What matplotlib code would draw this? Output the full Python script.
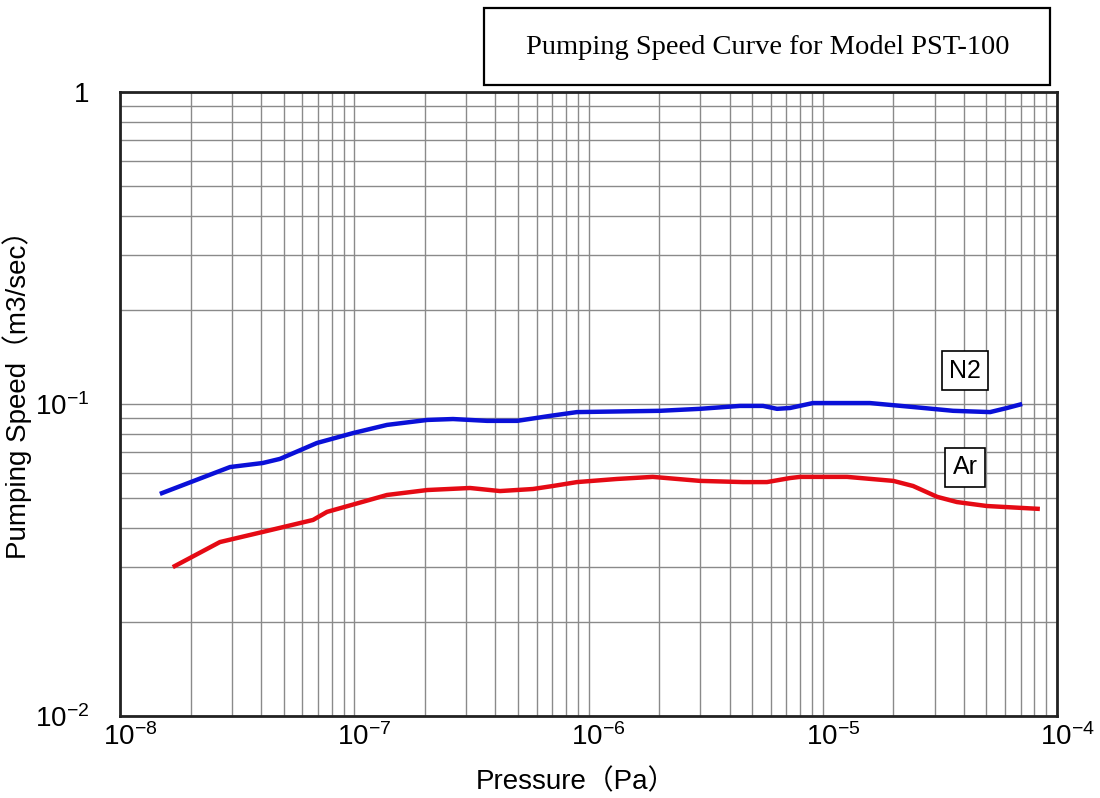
import matplotlib
matplotlib.use("Agg")
import matplotlib.pyplot as plt
from matplotlib.ticker import FixedLocator, LogLocator, NullFormatter, FixedFormatter
from matplotlib.patches import Rectangle
import matplotlib.transforms as mtransforms

plt.rcParams['font.family'] = ['Liberation Sans', 'Noto Sans CJK JP', 'DejaVu Sans']

# datos
# N2
n2_presion = [1.48e-8, 2.95e-8, 4.07e-8, 4.82e-8, 6.93e-8, 9.89e-8, 1.38e-7, 2.05e-7,
              2.64e-7, 3.69e-7, 4.96e-7, 6.85e-7, 8.93e-7, 2.02e-6, 2.99e-6, 4.43e-6,
              5.56e-6, 6.38e-6, 7.25e-6, 9.08e-6, 1.59e-5, 2.43e-5, 3.60e-5, 5.18e-5,
              6.12e-5, 7.10e-5]
n2_velocidad = [0.0515, 0.0628, 0.0647, 0.0667, 0.0750, 0.0807, 0.0857, 0.0889,
                0.0895, 0.0883, 0.0883, 0.0916, 0.0942, 0.0951, 0.0965, 0.0986,
                0.0986, 0.0965, 0.0971, 0.1007, 0.1007, 0.0978, 0.0951, 0.0942,
                0.0971, 0.1000]

# Ar
ar_presion = [1.68e-8, 2.67e-8, 4.07e-8, 6.67e-8, 7.65e-8, 1.38e-7, 2.05e-7, 3.12e-7,
              4.19e-7, 5.79e-7, 7.05e-7, 8.93e-7, 1.32e-6, 1.88e-6, 2.99e-6, 4.57e-6,
              5.78e-6, 7.25e-6, 8.0e-6, 1.27e-5, 2.0e-5, 2.43e-5, 3.08e-5, 3.74e-5,
              5.02e-5, 8.45e-5]
ar_velocidad = [0.0300, 0.0361, 0.0389, 0.0425, 0.0451, 0.0511, 0.0530, 0.0538,
                0.0526, 0.0534, 0.0546, 0.0562, 0.0575, 0.0584, 0.0567, 0.0562,
                0.0562, 0.0579, 0.0584, 0.0584, 0.0567, 0.0546, 0.0504, 0.0485,
                0.0471, 0.0461]

x_ticks = [1e-8, 1e-7, 1e-6, 1e-5, 1e-4]
x_labels = [r'$\mathregular{10^{-8}}$', r'$\mathregular{10^{-7}}$', r'$\mathregular{10^{-6}}$',
            r'$\mathregular{10^{-5}}$', r'$\mathregular{10^{-4}}$']
y_ticks = [1e-2, 1e-1, 1]
y_labels = [r'$\mathregular{10^{-2}}$', r'$\mathregular{10^{-1}}$', '1']

titulo = "Pumping Speed Curve for Model PST-100"

fig = plt.figure(figsize=(11, 7.98), dpi=100)
ax = fig.add_axes([120/1100, 1-716/798, (1057-120)/1100, (716-92)/798])

ax.plot(n2_presion, n2_velocidad, color='#0a10d8', lw=3.2, solid_capstyle='butt', zorder=3)
ax.plot(ar_presion, ar_velocidad, color='#e50a14', lw=3.2, solid_capstyle='butt', zorder=3)

ax.set_xscale('log')
ax.set_yscale('log')
ax.set_xlim(1e-8, 1e-4)
ax.set_ylim(1e-2, 1)

ax.xaxis.set_major_locator(FixedLocator(x_ticks))
ax.xaxis.set_major_formatter(FixedFormatter(x_labels))
ax.yaxis.set_major_locator(FixedLocator(y_ticks))
ax.yaxis.set_major_formatter(FixedFormatter(y_labels))
ax.xaxis.set_minor_locator(LogLocator(base=10, subs=range(2, 10), numticks=20))
ax.yaxis.set_minor_locator(LogLocator(base=10, subs=range(2, 10), numticks=20))
ax.xaxis.set_minor_formatter(NullFormatter())
ax.yaxis.set_minor_formatter(NullFormatter())

ax.grid(True, which='both', color='#8a8a8a', lw=1)
ax.tick_params(which='both', length=0)
ax.tick_params(axis='x', pad=5, labelsize=20)
ax.tick_params(axis='y', pad=22, labelsize=20)
for s in ax.spines.values():
    s.set_linewidth(2)
    s.set_color('#222222')

ax.set_xlabel('Pressure（Pa）', fontsize=20)
ax.set_ylabel('Pumping Speed（m3/sec）', fontsize=20)
ax.xaxis.set_label_coords(0.486, -0.085)
ax.yaxis.set_label_coords(-0.094, 0.526)

# etiquetas N2 y Ar
ax.text(4.05e-5, 0.1276, 'N2', fontsize=18, ha='center', va='center',
        bbox=dict(boxstyle='square,pad=0.3', fc='white', ec='black', lw=1.2), zorder=4)
ax.text(4.05e-5, 0.0628, 'Ar', fontsize=18, ha='center', va='center',
        bbox=dict(boxstyle='square,pad=0.3', fc='white', ec='black', lw=1.2), zorder=4)

# caja del titulo
fig.patches.append(Rectangle((484/1100, 1-85/798), (1050-484)/1100, 77/798,
                             transform=fig.transFigure, fill=False, ec='black', lw=1.6))
fig.text(768/1100, 1-47/798, titulo, fontsize=20.5, family='Liberation Serif',
         ha='center', va='center')

# correr un poco las etiquetas del eje x a la derecha
desplazar = mtransforms.ScaledTranslation(10/100, 0, fig.dpi_scale_trans)
for lab in ax.get_xticklabels():
    lab.set_transform(lab.get_transform() + desplazar)

fig.savefig('out.png', dpi=100)
